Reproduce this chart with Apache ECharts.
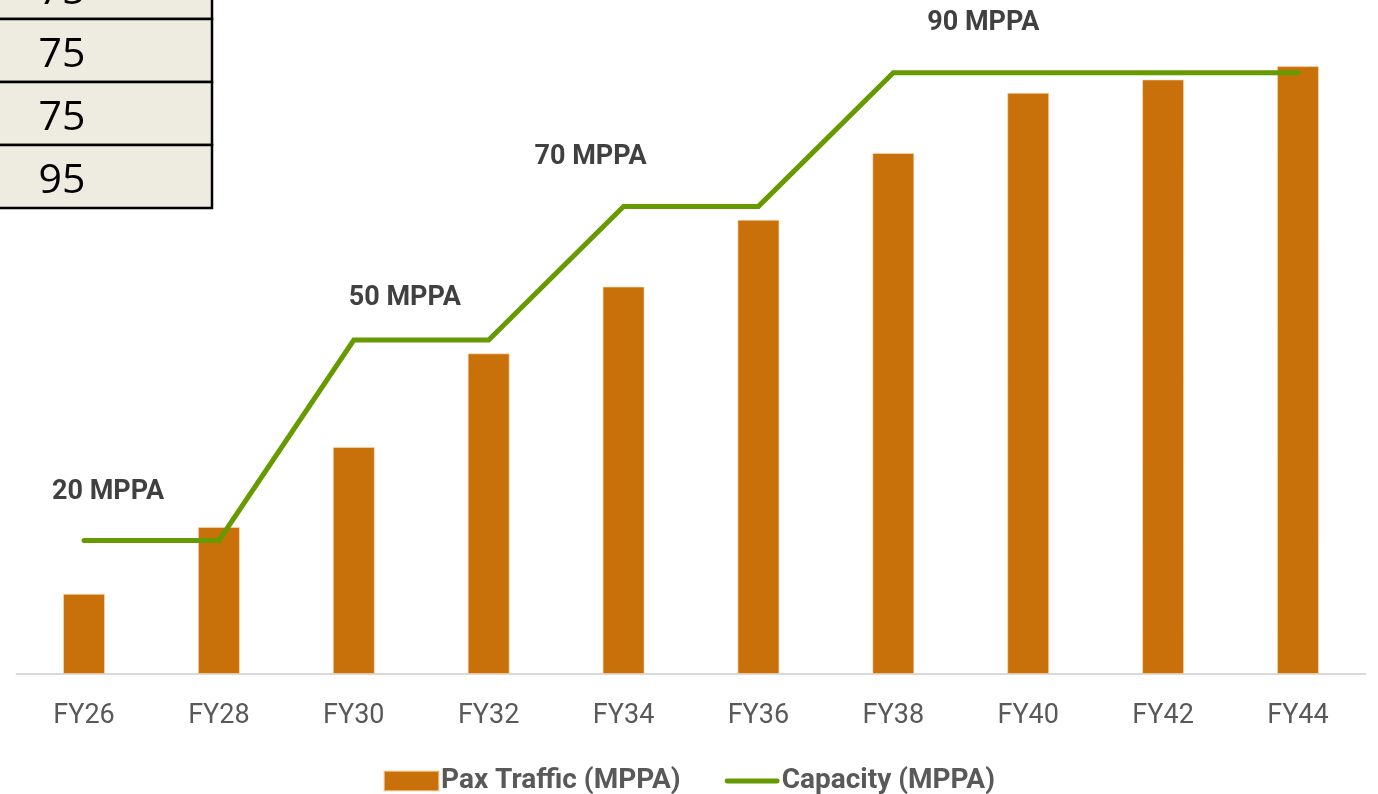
<!DOCTYPE html>
<html>
<head>
<meta charset="utf-8">
<title>Pax Traffic vs Capacity</title>
<script src="https://cdn.jsdelivr.net/npm/echarts@6/dist/echarts.min.js"></script>
<style>
  html, body { margin: 0; padding: 0; background: #ffffff; }
  #chart { width: 1378px; height: 794px; }
</style>
</head>
<body>
<div id="chart"></div>
<script>
// Fiscal years on the x axis
const years = ['FY26', 'FY28', 'FY30', 'FY32', 'FY34', 'FY36', 'FY38', 'FY40', 'FY42', 'FY44'];
// Passenger traffic, million passengers per annum
const paxTraffic = [12, 22, 34, 48, 58, 68, 78, 87, 89, 91];
// Airport capacity, million passengers per annum
const capacity = [20, 20, 50, 50, 70, 70, 90, 90, 90, 90];
// Values in the side table
const tableValues = ['75', '75', '75', '95'];

// Capacity step labels: shown at the first year of each new capacity level
const stepLabelOffsets = { 0: [24, -48], 2: [51, -42], 4: [-33, -49], 6: [90, -50] };

const FONT = 'Roboto, "Noto Sans", "DejaVu Sans", sans-serif';
const BAR_COLOR = '#C8700A';
const LINE_COLOR = '#669A00';

const capacityData = capacity.map((v, i) => {
  const off = stepLabelOffsets[i];
  if (!off) return v;
  return {
    value: v,
    label: {
      show: true,
      position: 'inside',
      offset: off,
      formatter: v + ' MPPA',
      fontFamily: FONT,
      fontWeight: 'bold',
      fontSize: 27,
      color: '#404040'
    }
  };
});

// Side table drawn as plain rectangles and text
const rowTop = -44, rowH = 63, tableRight = 212;
const tableGraphics = [];
tableValues.forEach((t, i) => {
  const y = rowTop + i * rowH;
  tableGraphics.push({
    type: 'rect',
    shape: { x: -10, y: y, width: tableRight + 10, height: rowH },
    style: { fill: '#EEECE1', stroke: '#000000', lineWidth: 2.5 },
    z: 10
  });
  tableGraphics.push({
    type: 'text',
    x: 62,
    y: y + rowH / 2 + 5,
    style: {
      text: t,
      fontFamily: '"Open Sans", "Noto Sans", sans-serif',
      fontSize: 41,
      fill: '#000000',
      align: 'center',
      verticalAlign: 'middle'
    },
    z: 11
  });
});

const chart = echarts.init(document.getElementById('chart'), null, { renderer: 'canvas' });

chart.setOption({
  animation: false,
  backgroundColor: '#ffffff',
  grid: { left: 16.6, right: 12.6, top: 6, bottom: 120, containLabel: false },
  legend: {
    top: 762,
    left: 'center',
    itemWidth: 55,
    itemHeight: 20,
    itemGap: 44,
    textStyle: { fontFamily: FONT, fontWeight: 'bold', fontSize: 28, color: '#595959', padding: [0, 0, 0, -3] },
    data: [
      { name: 'Pax Traffic (MPPA)', icon: 'rect' },
      { name: 'Capacity (MPPA)', icon: 'path://M2.5,0 H53.5 A2.5,2.5 0 0 1 53.5,5 H2.5 A2.5,2.5 0 0 1 2.5,0 Z' }
    ]
  },
  xAxis: {
    type: 'category',
    data: years,
    axisLine: { lineStyle: { color: '#D9D9D9', width: 2 } },
    axisTick: { show: false },
    axisLabel: { fontFamily: FONT, fontSize: 27, color: '#595959', margin: 29 }
  },
  yAxis: {
    type: 'value',
    min: 0,
    max: 100,
    show: false,
    splitLine: { show: false }
  },
  series: [
    {
      name: 'Pax Traffic (MPPA)',
      type: 'bar',
      data: paxTraffic,
      barWidth: 42,
      itemStyle: { color: BAR_COLOR, borderColor: 'rgba(255,220,180,0.6)', borderWidth: 1 },
      z: 2
    },
    {
      name: 'Capacity (MPPA)',
      type: 'line',
      data: capacityData,
      symbol: 'circle',
      symbolSize: 0,
      showSymbol: true,
      itemStyle: { color: LINE_COLOR },
      lineStyle: { color: LINE_COLOR, width: 5, cap: 'round', join: 'miter' },
      label: { show: false },
      z: 3
    }
  ],
  graphic: tableGraphics
});
</script>
</body>
</html>
